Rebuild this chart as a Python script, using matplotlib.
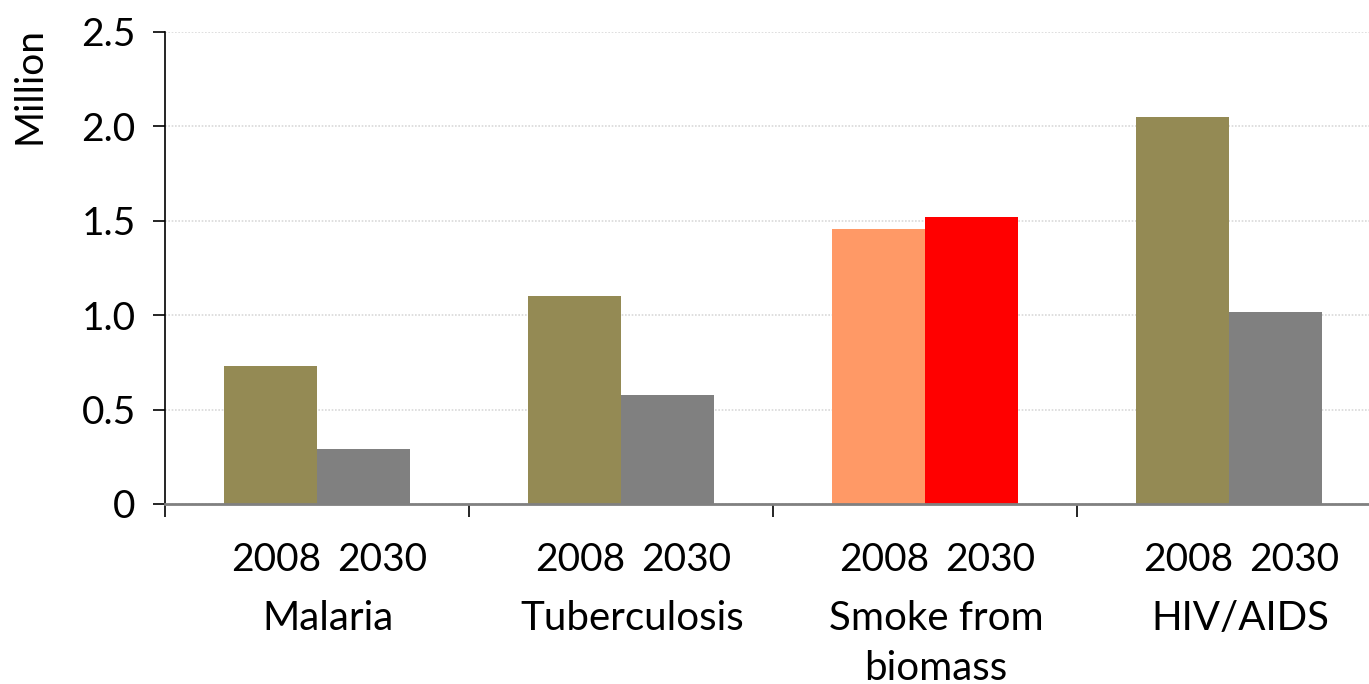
import matplotlib
matplotlib.use("Agg")
import matplotlib.pyplot as plt
import numpy as np

categories = ["Malaria", "Tuberculosis", "Smoke from\nbiomass", "HIV/AIDS"]
years = ["2008", "2030"]
values_2008 = [0.73, 1.10, 1.455, 2.05]
values_2030 = [0.29, 0.575, 1.52, 1.015]
colors_2008 = ["#948A54", "#948A54", "#FF9966", "#948A54"]
colors_2030 = ["#808080", "#808080", "#FF0000", "#808080"]
yticks = [0, 0.5, 1.0, 1.5, 2.0, 2.5]
ytick_labels = ["0", "0.5", "1.0", "1.5", "2.0", "2.5"]

plt.rcParams['font.family'] = ['Lato', 'DejaVu Sans']

W, H = 1369, 684
fig = plt.figure(figsize=(W / 100, H / 100), dpi=100)
ax = fig.add_axes([165 / W, 1 - 504 / H, 1216 / W, 472 / H])

x = np.arange(len(categories))
bw = 0.306
ax.bar(x - bw / 2, values_2008, width=bw, color=colors_2008, zorder=2, linewidth=0)
ax.bar(x + bw / 2, values_2030, width=bw, color=colors_2030, zorder=2, linewidth=0)

ax.set_xlim(-0.5, len(categories) - 0.5)
ax.set_ylim(0, 2.5)
ax.set_yticks(yticks)
ax.set_yticklabels(ytick_labels, fontsize=28)
ax.yaxis.grid(True, color="#D9D9D9", linestyle=(0, (1, 1)), linewidth=1.2, zorder=0)
ax.set_axisbelow(True)

ax.set_xticks(np.arange(len(categories) + 1) - 0.5)
ax.set_xticklabels([])
ax.tick_params(axis='x', direction='out', length=9, width=1.2, color='black')
ax.tick_params(axis='y', direction='out', length=9, width=1.2, color='black', pad=12)

for s in ['top', 'right']:
    ax.spines[s].set_visible(False)
ax.spines['left'].set_color('black')
ax.spines['left'].set_linewidth(1.2)
ax.spines['bottom'].set_color('#808080')
ax.spines['bottom'].set_linewidth(2)
ax.spines['bottom'].set_zorder(3)

for i, cat in enumerate(categories):
    for xv, yr, dx in [(i - bw / 2, years[0], 6), (i + bw / 2, years[1], 19)]:
        ax.annotate(yr, xy=(xv, 0), xycoords=('data', 'axes fraction'),
                    xytext=(dx, -56), textcoords='offset pixels',
                    ha='center', va='center', fontsize=28, annotation_clip=False)
    lines = cat.split("\n")
    for j, line in enumerate(lines):
        ax.annotate(line, xy=(i, 0), xycoords=('data', 'axes fraction'),
                    xytext=(11, -114 - 50 * j), textcoords='offset pixels',
                    ha='center', va='center', fontsize=29, annotation_clip=False)

fig.text(29 / W, 1 - 86 / H, "Million", rotation=90, ha='center', va='center', fontsize=28)

fig.savefig("out.png", dpi=100)
